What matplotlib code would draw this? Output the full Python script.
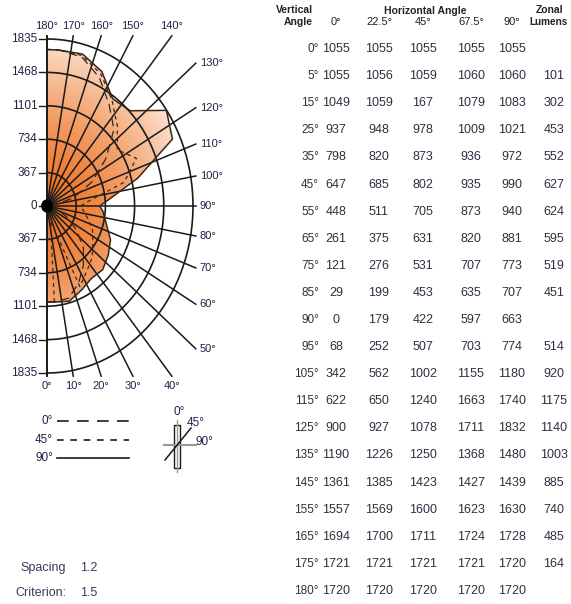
import numpy as np
import matplotlib.pyplot as plt
from matplotlib.path import Path
from matplotlib.patches import PathPatch, Rectangle

plt.rcParams['font.family'] = ['Liberation Sans', 'DejaVu Sans']

# photometric data (candela)
vert_angles = [0, 5, 15, 25, 35, 45, 55, 65, 75, 85, 90, 95, 105, 115, 125, 135, 145, 155, 165, 175, 180]
horiz_labels = ['0°', '22.5°', '45°', '67.5°', '90°']
cd_0 = [1055, 1055, 1049, 937, 798, 647, 448, 261, 121, 29, 0, 68, 342, 622, 900, 1190, 1361, 1557, 1694, 1721, 1720]
cd_22 = [1055, 1056, 1059, 948, 820, 685, 511, 375, 276, 199, 179, 252, 562, 650, 927, 1226, 1385, 1569, 1700, 1721, 1720]
cd_45 = [1055, 1059, 167, 978, 873, 802, 705, 631, 531, 453, 422, 507, 1002, 1240, 1078, 1250, 1423, 1600, 1711, 1721, 1720]
cd_67 = [1055, 1060, 1079, 1009, 936, 935, 873, 820, 707, 635, 597, 703, 1155, 1663, 1711, 1368, 1427, 1623, 1724, 1721, 1720]
cd_90 = [1055, 1060, 1083, 1021, 972, 990, 940, 881, 773, 707, 663, 774, 1180, 1740, 1832, 1480, 1439, 1630, 1728, 1720, 1720]
zonal = ['', '101', '302', '453', '552', '627', '624', '595', '519', '451', '', '514', '920', '1175', '1140', '1003', '885', '740', '485', '164', '']
ring_values = [367, 734, 1101, 1468, 1835]
ray_angles = list(range(0, 190, 10))

ink = '#1e2448'
line_col = '#1a1a1a'

fig = plt.figure(figsize=(5.71, 6.04), dpi=100)

# ---- polar candela plot drawn on a cartesian axes (stretched like the original)
sx = 146 / 1835
sy = 167 / 1835
ax = fig.add_axes([0, 204 / 604, 230 / 571, 380 / 604])
ax.set_xlim(-47 / sx, (230 - 47) / sx)
ax.set_ylim(-(400 - 206) / sy, (206 - 20) / sy)
ax.axis('off')


def to_xy(r, deg):
    t = np.radians(deg)
    return np.asarray(r) * np.sin(t), -np.asarray(r) * np.cos(t)


# gradient fill under the 90 deg plane
fx, fy = to_xy(cd_90, vert_angles)
verts = [(0, 0)] + list(zip(fx, fy)) + [(0, 0)]
clip = PathPatch(Path(verts), facecolor='none', edgecolor='none')
ax.add_patch(clip)
gx, gy = np.meshgrid(np.linspace(0, 2000, 300), np.linspace(-2000, 2000, 600))
t = np.clip(np.hypot(gx, gy) / 1850, 0, 1) ** 1.5
dark = np.array([0.93, 0.45, 0.14])
light = np.array([0.99, 0.90, 0.84])
img = dark + (light - dark) * t[..., None]
im = ax.imshow(img, extent=(0, 2000, -2000, 2000), origin='lower', aspect='auto', zorder=1)
im.set_clip_path(clip)

# rings
arc = np.linspace(0, 180, 200)
for rv in ring_values:
    ax.plot(*to_xy(rv, arc), color=line_col, lw=1.2, zorder=3)

# rays, clipped to a box
R = 1870
for a in ray_angles:
    th = np.radians(a)
    s, c = np.sin(th), -np.cos(th)
    lim = min(R / abs(s) if abs(s) > 1e-9 else 1e9, R / abs(c) if abs(c) > 1e-9 else 1e9)
    ex, ey = s * lim, c * lim
    ax.plot([0, ex], [0, ey], color=line_col, lw=1.1, zorder=3)
    if a <= 40:
        ax.text(ex, ey - 110, f'{a}°', ha='center', va='center', fontsize=8, color=ink)
    elif a >= 140:
        ax.text(ex, ey + 110, f'{a}°', ha='center', va='center', fontsize=8, color=ink)
    else:
        ax.text(ex + 50, ey, f'{a}°', ha='left', va='center', fontsize=8, color=ink)

ax.plot([0, 0], [-R, R], color=line_col, lw=1.3, zorder=3)

# ring value labels on both sides of the axis
for rv in [0] + ring_values:
    for sgn in ([1] if rv == 0 else [1, -1]):
        ax.plot([-100, 0], [sgn * rv, sgn * rv], color=line_col, lw=1.0, zorder=3)
        ax.text(-120, sgn * rv, str(rv), ha='right', va='center', fontsize=8.5, color=ink)

# candela curves
ax.plot(*to_xy(cd_90, vert_angles), color='#3a2414', lw=1.1, zorder=4)
ax.plot(*to_xy(cd_45, vert_angles), color='#3a2414', lw=0.9, ls=(0, (3, 3)), zorder=4)
ax.plot(*to_xy(cd_0, vert_angles), color='#3a2414', lw=0.9, ls=(0, (7, 4)), zorder=4)
ax.add_patch(plt.Circle((0, 0), 65, color='black', zorder=5))

# ---- overlay axes in pixel units for legend, icon and table
ov = fig.add_axes([0, 0, 1, 1], zorder=-1)
ov.set_xlim(0, 571)
ov.set_ylim(604, 0)
ov.axis('off')

legend_items = [('0°', (0, (7, 5)), 421), ('45°', (0, (4, 4)), 440), ('90°', '-', 458)]
for lab, ls, y in legend_items:
    ov.text(53, y, lab, ha='right', va='center', fontsize=8.5, color=ink)
    ov.plot([57, 129], [y, y], color=line_col, lw=1.2, ls=ls)

# orientation icon
ov.plot([177, 177], [420, 472], color='#999999', lw=1)
ov.plot([164, 196], [445, 445], color='#999999', lw=1.5)
ov.add_patch(Rectangle((174, 425), 6, 43, fill=False, edgecolor=line_col, lw=1))
ov.plot([165, 191], [460, 428], color=line_col, lw=1.1)
ov.text(179, 412, '0°', ha='center', va='center', fontsize=8.5, color=ink)
ov.text(187, 423, '45°', ha='left', va='center', fontsize=8.5, color=ink)
ov.text(196, 442, '90°', ha='left', va='center', fontsize=8.5, color=ink)

ov.text(66, 568, 'Spacing', ha='right', va='center', fontsize=9, color='#3a3a5a')
ov.text(80, 568, '1.2', ha='left', va='center', fontsize=9, color='#3a3a5a')
ov.text(66, 593, 'Criterion:', ha='right', va='center', fontsize=9, color='#3a3a5a')
ov.text(80, 593, '1.5', ha='left', va='center', fontsize=9, color='#3a3a5a')

# table headers
hdr = '#222222'
ov.text(313, 10, 'Vertical', ha='right', va='center', fontsize=7.5, fontweight='bold', color=hdr)
ov.text(313, 22, 'Angle', ha='right', va='center', fontsize=7.5, fontweight='bold', color=hdr)
ov.text(425, 11, 'Horizontal Angle', ha='center', va='center', fontsize=7.5, fontweight='bold', color=hdr)
ov.text(550, 10, 'Zonal', ha='center', va='center', fontsize=7.5, fontweight='bold', color=hdr)
ov.text(568, 22, 'Lumens', ha='right', va='center', fontsize=7.2, fontweight='bold', color=hdr)
col_x = [336, 379, 423, 471, 512]
for cx, lab in zip(col_x, horiz_labels):
    ov.text(cx, 22, lab, ha='center', va='center', fontsize=8, color=hdr)

# table body
cols = [cd_0, cd_22, cd_45, cd_67, cd_90]
for i, va in enumerate(vert_angles):
    y = 49 + 27.1 * i
    ov.text(319, y, f'{va}°', ha='right', va='center', fontsize=8.5, color='#2e3040')
    for cx, col in zip(col_x, cols):
        ov.text(cx, y, str(col[i]), ha='center', va='center', fontsize=9, color='#2e3040')
    ov.text(554, y, zonal[i], ha='center', va='center', fontsize=9, color='#2e3040')

fig.savefig('out.png', dpi=100)
